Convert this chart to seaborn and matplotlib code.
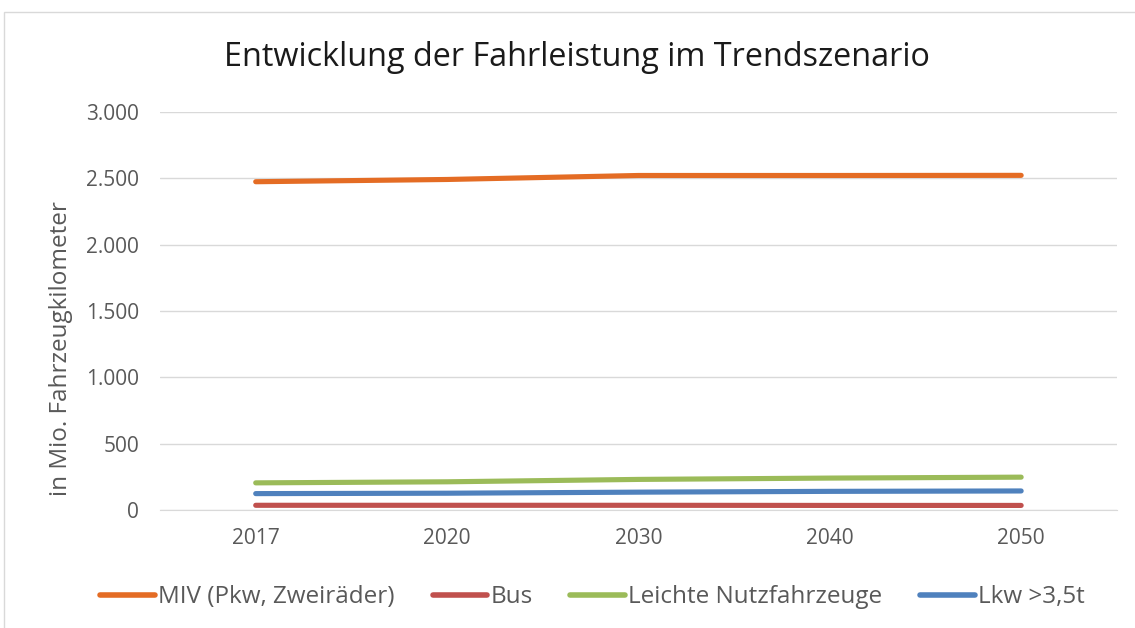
import matplotlib
matplotlib.use("Agg")
import matplotlib.pyplot as plt
from matplotlib.patches import Rectangle
from matplotlib.ticker import FuncFormatter
import pandas as pd
import seaborn as sns

# Werte (Mio. Fahrzeugkilometer)
jahre = ["2017", "2020", "2030", "2040", "2050"]
miv = [2473, 2490, 2520, 2520, 2521]
bus = [35, 35, 35, 34, 34]
lnf = [204, 212, 230, 240, 247]
lkw = [123, 126, 134, 140, 143]

serien = ["MIV (Pkw, Zweiräder)", "Bus", "Leichte Nutzfahrzeuge", "Lkw >3,5t"]
farben = ["#E46C24", "#C0504D", "#9BBB59", "#4F81BD"]

df = pd.DataFrame({"Jahr": jahre * 4,
                   "Wert": miv + bus + lnf + lkw,
                   "Serie": [s for s in serien for _ in jahre]})

sns.set_style("white")
plt.rcParams["font.family"] = ["Open Sans", "DejaVu Sans"]
grau = "#595959"

fig = plt.figure(figsize=(11.35, 6.28), dpi=100)
ax = fig.add_axes([0.141, 0.188, 0.843, 0.634])

sns.lineplot(data=df, x="Jahr", y="Wert", hue="Serie", palette=farben,
             linewidth=3.7, ax=ax, sort=False, solid_capstyle="round")

ax.set_xlim(-0.5, 4.5)
ax.set_ylim(0, 3000)
ax.set_yticks(range(0, 3001, 500))
ax.yaxis.set_major_formatter(FuncFormatter(lambda v, p: f"{int(v):,}".replace(",", ".")))
ax.grid(axis="y", color="#d9d9d9", linewidth=1)
ax.set_axisbelow(True)
for s in ["top", "right", "left"]:
    ax.spines[s].set_visible(False)
ax.spines["bottom"].set_color("#d9d9d9")
ax.tick_params(axis="both", length=0, labelsize=15, labelcolor=grau)
ax.tick_params(axis="x", pad=13)
ax.tick_params(axis="y", pad=15)
ax.set_xlabel("")
ax.set_ylabel("in Mio. Fahrzeugkilometer", fontsize=17.5, color=grau)
ax.yaxis.set_label_coords(-0.091, 0.405)

fig.suptitle("Entwicklung der Fahrleistung im Trendszenario", fontsize=23.3,
             color="#1a1a1a", x=0.508, y=0.908, va="center")

leg = ax.legend(loc="center", bbox_to_anchor=(0.452, -0.219), ncol=4, frameon=False,
                fontsize=17.5, handlelength=2.26, handletextpad=0.12,
                columnspacing=1.55, borderaxespad=0)
for t in leg.get_texts():
    t.set_color(grau)
for h in leg.get_lines():
    h.set_linewidth(4)

# Rahmen der Excel-Grafik
fig.patches.append(Rectangle((4 / 1135, -0.1), 1.2, (628 - 12) / 628 + 0.1,
                             transform=fig.transFigure, fill=False,
                             edgecolor="#d9d9d9", linewidth=1))

fig.savefig("out.png", dpi=100, facecolor="white")
